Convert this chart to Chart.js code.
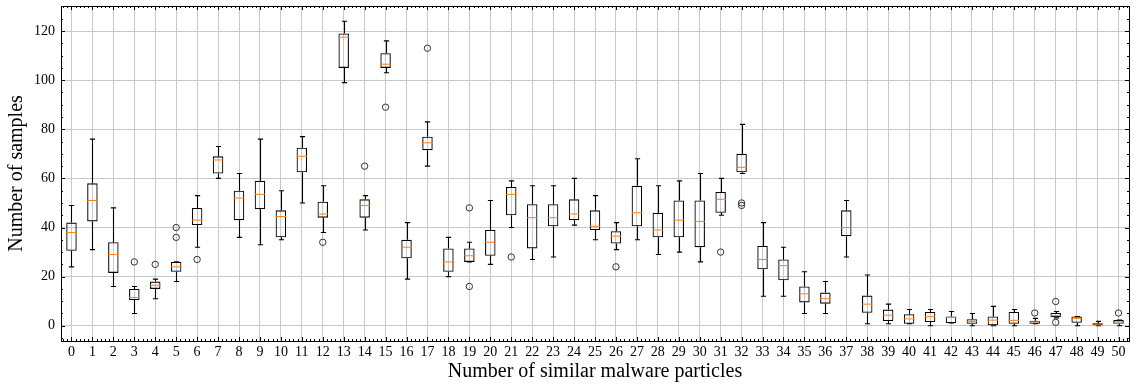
<!DOCTYPE html>
<html>
<head>
<meta charset="utf-8">
<script src="https://cdn.jsdelivr.net/npm/chart.js@4/dist/chart.umd.min.js"></script>
<style>
  html, body { margin: 0; padding: 0; background: #fff; }
</style>
</head>
<body>
<canvas id="grafico" width="1134" height="388"></canvas>
<script>
// categories = number of similar malware particles
const categories = Array.from({ length: 51 }, (_, i) => String(i));

// box plot statistics
const whiskLow = [24, 31, 16, 5, 11, 18, 32, 60, 36, 33, 35, 50, 38, 99, 39, 103, 19, 65, 20, 26,
  25, 40, 27, 28, 41, 35, 31, 35, 29, 30, 26, 45, 62, 12, 12, 5, 5, 28, 0.8, 0.8,
  0.8, 0, 1.1, 0, 0, 0, 0.8, 3.2, 0, 0, 0];
const q1 = [30.5, 42.5, 21.5, 10.5, 15, 22, 41, 62, 43, 47.5, 36, 62.5, 44, 105, 44, 105, 27.5, 71.5, 22, 26,
  28.5, 45, 31.5, 40.5, 43, 39, 33.5, 40.5, 36, 36, 32, 46, 62.5, 23, 18.5, 9.5, 9, 36.5, 5.3, 1.9,
  0.8, 1.5, 1.1, 0.8, 0, 0.8, 0.8, 3.5, 1.2, 0, 0.8];
const median = [38, 51, 29, 11.5, 16.5, 24, 43, 67.5, 52, 53.5, 44.5, 69, 45.5, 117.5, 49, 106.5, 32, 74.5, 26, 28.5,
  34, 53.5, 44, 44, 45.5, 40.5, 36.5, 46, 39, 43, 42.5, 51.5, 64.5, 27, 24.5, 13, 11, 40, 8.8, 4.3,
  2.8, 3.7, 3.4, 1.8, 2.3, 2.2, 1.6, 4.1, 3, 0.4, 1];
const q3 = [42, 58, 34, 15, 18, 26, 48, 69, 55, 59, 47, 72.5, 50.5, 119, 51.5, 111, 35, 77, 31.5, 31.5,
  39, 56.5, 49.5, 49.5, 51.5, 47, 38.5, 57, 46, 51, 51, 54.5, 70, 32.5, 27, 16, 13.5, 47, 12.3, 6.6,
  4.7, 5.6, 3.8, 2.7, 3.8, 5.6, 2, 5.2, 3.8, 1, 2.3];
const whiskHigh = [49, 76, 48, 16, 19, 26, 53, 73, 62, 76, 55, 77, 57, 124, 53, 116, 42, 83, 36, 34,
  51, 59, 57, 57, 60, 53, 42, 68, 57, 59, 62, 60, 82, 42, 32, 22, 18, 51, 20.7, 8.8,
  6.6, 6.6, 5.8, 5, 7.9, 6.6, 3, 5.8, 3.8, 1.8, 2.3];

// outliers: [category, value]
const outliers = [
  ['3', 26], ['4', 25], ['5', 36], ['5', 40], ['6', 27], ['12', 34], ['14', 65], ['15', 89], ['17', 113],
  ['19', 16], ['19', 48], ['21', 28], ['26', 24], ['31', 30], ['32', 49], ['32', 50],
  ['46', 5.2], ['47', 9.9], ['47', 1.4], ['50', 5.2]
];

// y axis tick labels
const yTicks = [0, 20, 40, 60, 80, 100, 120];

const serif = "'Liberation Serif', 'Times New Roman', serif";

const boxPlugin = {
  id: 'boxExtras',
  beforeDatasetsDraw(chart) {
    // whiskers and caps
    const ctx = chart.ctx;
    const y = chart.scales.y;
    const bars = chart.getDatasetMeta(0).data;
    ctx.save();
    ctx.strokeStyle = '#000';
    ctx.lineWidth = 1.1;
    bars.forEach((bar, i) => {
      const x = Math.round(bar.x) + 0.5;
      const cap = bar.width / 4;
      ctx.beginPath();
      ctx.moveTo(x, y.getPixelForValue(q3[i]));
      ctx.lineTo(x, y.getPixelForValue(whiskHigh[i]));
      ctx.moveTo(x, y.getPixelForValue(q1[i]));
      ctx.lineTo(x, y.getPixelForValue(whiskLow[i]));
      ctx.moveTo(x - cap, y.getPixelForValue(whiskHigh[i]));
      ctx.lineTo(x + cap, y.getPixelForValue(whiskHigh[i]));
      ctx.moveTo(x - cap, y.getPixelForValue(whiskLow[i]));
      ctx.lineTo(x + cap, y.getPixelForValue(whiskLow[i]));
      ctx.stroke();
    });
    ctx.restore();
  },
  afterDatasetsDraw(chart) {
    const ctx = chart.ctx;
    const { x: xs, y: ys } = chart.scales;
    const area = chart.chartArea;
    const bars = chart.getDatasetMeta(0).data;
    ctx.save();
    // medians
    ctx.strokeStyle = '#ff7f0e';
    ctx.lineWidth = 1;
    bars.forEach((bar, i) => {
      const py = ys.getPixelForValue(median[i]);
      ctx.beginPath();
      ctx.moveTo(bar.x - bar.width / 2, py);
      ctx.lineTo(bar.x + bar.width / 2, py);
      ctx.stroke();
    });

    // inward ticks on all four sides
    ctx.strokeStyle = '#000';
    ctx.lineWidth = 1;
    ctx.beginPath();
    for (let v = -0.4; v <= 50.45; v += 0.2) {
      const px = Math.round(xs.getPixelForValue(v)) + 0.5;
      const major = Math.abs(v - Math.round(v)) < 0.01;
      const len = major ? 4 : 2;
      ctx.moveTo(px, area.bottom); ctx.lineTo(px, area.bottom - len);
      ctx.moveTo(px, area.top); ctx.lineTo(px, area.top + len);
    }
    for (let v = -5; v <= 130; v += 5) {
      const py = Math.round(ys.getPixelForValue(v)) + 0.5;
      const len = v % 20 === 0 ? 4 : 2;
      ctx.moveTo(area.left, py); ctx.lineTo(area.left + len, py);
      ctx.moveTo(area.right, py); ctx.lineTo(area.right - len, py);
    }
    ctx.stroke();

    // frame
    ctx.strokeRect(Math.round(area.left) + 0.5, Math.round(area.top) + 0.5,
      Math.round(area.right - area.left), Math.round(area.bottom - area.top));
    ctx.restore();
  }
};

document.addEventListener('DOMContentLoaded', function() {
  const ctx = document.getElementById('grafico').getContext('2d');

  new Chart(ctx, {
    type: 'bar',
    data: {
      labels: categories,
      datasets: [{
        label: 'box',
        data: categories.map((c, i) => [q1[i], q3[i]]),
        backgroundColor: 'rgba(0,0,0,0)',
        borderColor: '#000',
        borderWidth: 1.1,
        borderSkipped: false,
        barPercentage: 0.5,
        categoryPercentage: 1.0
      }, {
        label: 'outliers',
        type: 'line',
        showLine: false,
        data: outliers.map(o => ({ x: o[0], y: o[1] })),
        pointStyle: 'circle',
        pointRadius: 3.2,
        pointBorderWidth: 1,
        pointBorderColor: '#333',
        pointBackgroundColor: 'rgba(0,0,0,0)'
      }]
    },
    options: {
      responsive: false,
      animation: false,
      layout: { padding: { top: 6, right: 2, left: 0, bottom: 0 } },
      plugins: {
        legend: { display: false },
        tooltip: { enabled: false }
      },
      scales: {
        x: {
          offset: true,
          grid: { offset: false, color: '#c8c8c8', lineWidth: 1, drawTicks: false },
          border: { display: false },
          ticks: {
            color: '#000',
            padding: 3,
            maxRotation: 0,
            autoSkip: false,
            font: { family: serif, size: 14 }
          },
          title: {
            display: true,
            text: 'Number of similar malware particles',
            color: '#000',
            font: { family: serif, size: 20 },
            padding: { top: 0, bottom: 4 }
          },
          afterFit: function(scale) {
            scale.height = 47;
            scale.paddingLeft = 0;
            scale.paddingRight = 0;
          }
        },
        y: {
          min: -6.2,
          max: 130.2,
          grid: { color: '#c8c8c8', lineWidth: 1, drawTicks: false },
          border: { display: false },
          ticks: {
            stepSize: 20,
            color: '#000',
            padding: 6,
            font: { family: serif, size: 14 }
          },
          afterBuildTicks: function(scale) {
            scale.ticks = yTicks.map(v => ({ value: v }));
          },
          title: {
            display: true,
            text: 'Number of samples',
            color: '#000',
            font: { family: serif, size: 20 },
            padding: { top: 5, bottom: 0 }
          },
          afterFit: function(scale) {
            scale.width = 61;
            scale.paddingTop = 0;
            scale.paddingBottom = 0;
          }
        }
      }
    },
    plugins: [boxPlugin]
  });
});
</script>
</body>
</html>
